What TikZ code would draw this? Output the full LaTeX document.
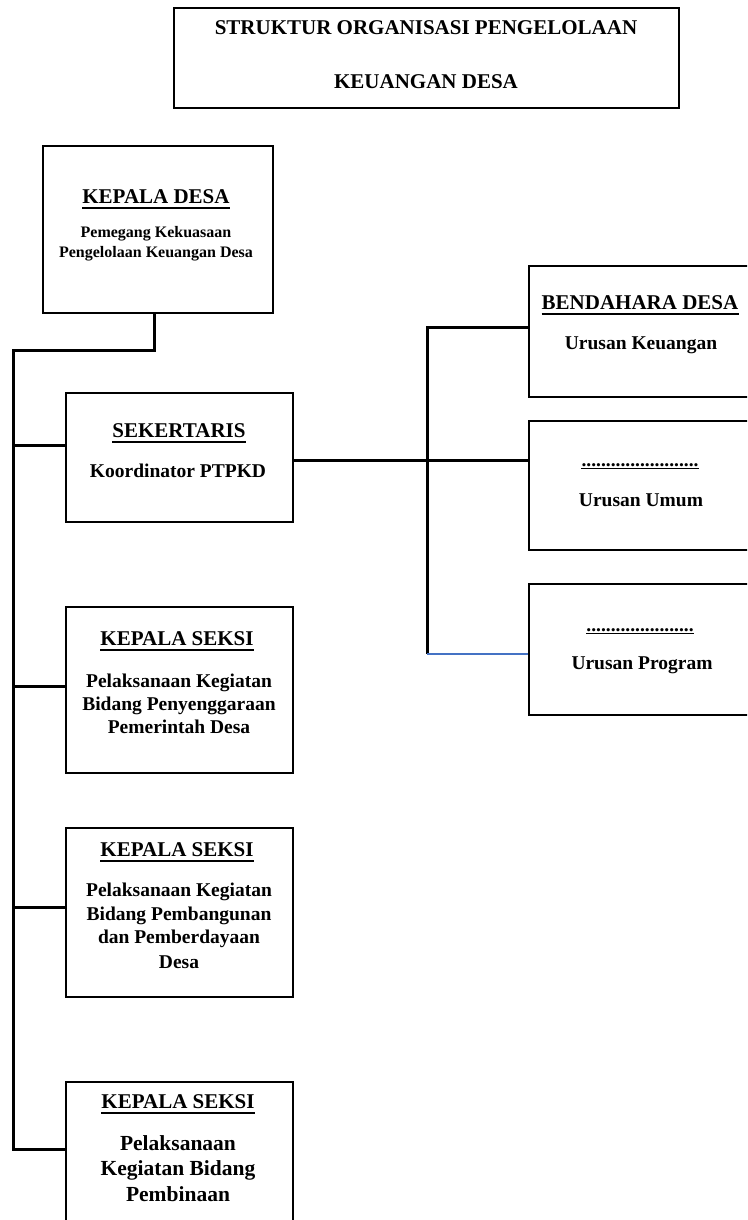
\documentclass[tikz,border=0pt]{standalone}
\usepackage{fontspec}
\setmainfont{Liberation Serif}
\definecolor{lineblue}{RGB}{68,114,196}
\tikzset{
  box/.style={draw=black, line width=1.6pt, inner sep=0pt, fill=white},
  conn/.style={draw=black, line width=3pt},
  thinblue/.style={draw=lineblue, line width=1.5pt},
  hd/.style={font=\fontsize{21}{24}\selectfont\bfseries, inner sep=0pt, anchor=base},
  tx/.style={font=\fontsize{19.5}{23}\selectfont\bfseries, inner sep=0pt, anchor=base},
  sm/.style={font=\fontsize{16}{20}\selectfont\bfseries, inner sep=0pt, anchor=base},
  bg/.style={font=\fontsize{21.5}{25}\selectfont\bfseries, inner sep=0pt, anchor=base},
  uline/.style={draw=black, line width=2.2pt}
}
\begin{document}
\begin{tikzpicture}[x=1pt,y=-1pt]
\useasboundingbox (0,0) rectangle (747,1220);
\clip (0,0) rectangle (747,1220);
\fill[white] (0,0) rectangle (747,1220);

% boxes
\node[box, minimum width=505, minimum height=100] (title) at (426.5,58) {};
\node[box, minimum width=230, minimum height=167] (kd) at (158,229.5) {};
\node[box, minimum width=227, minimum height=129] (sek) at (179.5,457.5) {};
\node[box, minimum width=227, minimum height=166] (ks1) at (179.5,690) {};
\node[box, minimum width=227, minimum height=169] (ks2) at (179.5,912.5) {};
\node[box, minimum width=227, minimum height=158] (ks3) at (179.5,1161) {};
\node[box, minimum width=224, minimum height=131] (bd) at (641,331.5) {};
\node[box, minimum width=224, minimum height=129] (uu) at (641,485.5) {};
\node[box, minimum width=224, minimum height=131] (up) at (641,649.5) {};

% connectors left
\coordinate (L1) at (13,350);
\coordinate (L2) at (13,1149);
\draw[conn] ([xshift=-4pt]kd.south) |- (L1) -- (L2) -- ([yshift=12pt]ks3.west);
\draw[conn] ([yshift=12.5pt]sek.west) -- ([yshift=12.5pt]sek.west -| L1);
\draw[conn] ([yshift=4pt]ks1.west) -- ([yshift=4pt]ks1.west -| L1);
\draw[conn] ([yshift=5.5pt]ks2.west) -- ([yshift=5.5pt]ks2.west -| L1);

% connectors right
\coordinate (R2) at (427,654);
\draw[conn] ([yshift=-2.5pt]sek.east) -- ([yshift=25.5pt]uu.west);
\draw[conn] ([yshift=4.5pt]bd.west) -| (R2);
\draw[thinblue] (R2) -- ([yshift=-4.5pt]up.west);

% title
\node[hd] (t1) at (426,35) {STRUKTUR ORGANISASI PENGELOLAAN};
\node[hd] (t2) at (426,89) {KEUANGAN DESA};

% kepala desa
\node[hd] (kdh) at (156,203) {KEPALA DESA};
\draw[uline] ([yshift=-5pt]kdh.base west) -- ([yshift=-5pt]kdh.base east);
\node[sm] (kd1) at (156,237) {Pemegang Kekuasaan};
\node[sm] (kd2) at (156,257) {Pengelolaan Keuangan Desa};

% sekertaris
\node[hd] (sekh) at (179,437) {SEKERTARIS};
\draw[uline] ([yshift=-5pt]sekh.base west) -- ([yshift=-5pt]sekh.base east);
\node[tx] (sek1) at (178,477) {Koordinator PTPKD};

% bendahara
\node[hd] (bdh) at (640,309) {BENDAHARA DESA};
\draw[uline] ([yshift=-5pt]bdh.base west) -- ([yshift=-5pt]bdh.base east);
\node[tx] (bd1) at (641,349) {Urusan Keuangan};

% urusan umum
\node[tx] (uuh) at (640,466) {........................};
\draw[draw=black, line width=1.6pt] ([yshift=-2.5pt]uuh.base west) -- ([yshift=-2.5pt]uuh.base east);
\node[tx] (uu1) at (641,506) {Urusan Umum};

% urusan program
\node[tx] (uph) at (640,631) {......................};
\draw[draw=black, line width=1.6pt] ([yshift=-2.5pt]uph.base west) -- ([yshift=-2.5pt]uph.base east);
\node[tx] (up1) at (642,669) {Urusan Program};

% kepala seksi 1
\node[hd] (k1h) at (177,645) {KEPALA SEKSI};
\draw[uline] ([yshift=-5pt]k1h.base west) -- ([yshift=-5pt]k1h.base east);
\node[tx] (k1a) at (179,687) {Pelaksanaan Kegiatan};
\node[tx] (k1b) at (179,710) {Bidang Penyenggaraan};
\node[tx] (k1c) at (179,733) {Pemerintah Desa};

% kepala seksi 2
\node[hd] (k2h) at (177,856) {KEPALA SEKSI};
\draw[uline] ([yshift=-5pt]k2h.base west) -- ([yshift=-5pt]k2h.base east);
\node[tx] (k2a) at (179,896) {Pelaksanaan Kegiatan};
\node[tx] (k2b) at (179,920) {Bidang Pembangunan};
\node[tx] (k2c) at (179,943) {dan Pemberdayaan};
\node[tx] (k2d) at (179,968) {Desa};

% kepala seksi 3
\node[hd] (k3h) at (178,1108) {KEPALA SEKSI};
\draw[uline] ([yshift=-5pt]k3h.base west) -- ([yshift=-5pt]k3h.base east);
\node[bg] (k3a) at (178,1150) {Pelaksanaan};
\node[bg] (k3b) at (178,1175) {Kegiatan Bidang};
\node[bg] (k3c) at (178,1201) {Pembinaan};
\end{tikzpicture}
\end{document}
